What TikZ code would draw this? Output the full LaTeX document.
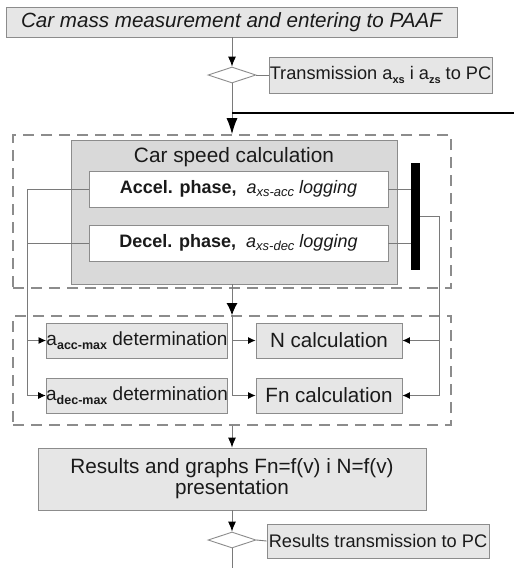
\documentclass[tikz,border=0pt]{standalone}
\usepackage{fontspec}
\setmainfont{Liberation Sans}
\usetikzlibrary{arrows.meta,shapes.geometric}
\definecolor{boxfill}{HTML}{E6E6E6}
\definecolor{speedfill}{HTML}{D9D9D9}
\definecolor{edgegray}{HTML}{8C8C8C}
\definecolor{linegray}{HTML}{7A7A7A}
\definecolor{txt}{HTML}{1A1A1A}
\newcommand{\sbs}[2][11]{\raisebox{-0.35ex}{\fontsize{#1}{#1}\selectfont #2}}
\tikzset{
  box/.style={draw=edgegray, fill=boxfill, line width=0.9pt, inner sep=0pt, text=txt},
  dbox/.style={draw=edgegray, dash pattern=on 11pt off 7pt, line width=1.8pt, inner sep=0pt},
  dia/.style={diamond, draw=edgegray, fill=white, line width=0.9pt, minimum width=48pt, minimum height=16pt, inner sep=0pt},
  conn/.style={draw=linegray, line width=0.9pt},
  arr/.style={conn, -{Latex[length=10pt,width=8pt,color=black]}},
  bigarr/.style={conn, -{Latex[length=16pt,width=11pt,color=black]}},
  midarr/.style={conn, -{Latex[length=12pt,width=11pt,color=black]}},
  smallarr/.style={conn, -{Latex[length=7.5pt,width=7pt,color=black]}},
}
\begin{document}
\begin{tikzpicture}[x=1pt,y=-1pt]
\useasboundingbox (0,0) rectangle (514,568);
% dashed groups
\node[dbox, minimum width=438, minimum height=153] (g1) at (232,211.5) {};
\node[dbox, minimum width=438, minimum height=109] (g2) at (232,370.5) {};
% nodes
\node[box, minimum width=451, minimum height=30, font=\fontsize{20.6}{24}\selectfont\itshape] (top) at (231.5,22) {Car mass measurement and entering to PAAF};
\node[dia] (d1) at (232,75) {};
\node[box, minimum width=223, minimum height=36, font=\fontsize{18.2}{22}\selectfont] (t1) at (380.5,75) {Transmission a\sbs{\bfseries xs} i a\sbs{\bfseries zs} to PC};
\node[box, fill=speedfill, minimum width=326, minimum height=144] (speed) at (234,212) {};
\node[font=\fontsize{20.8}{24}\selectfont, text=txt, inner sep=0pt] (title) at (234,157) {Car speed calculation};
\node[box, fill=white, minimum width=299, minimum height=36, font=\fontsize{18}{20}\selectfont] (acc) at (238.5,189) {\textbf{Accel. phase,}\ \ \textit{a\sbs[13]{xs-acc} logging}};
\node[box, fill=white, minimum width=299, minimum height=36, font=\fontsize{18}{20}\selectfont] (dec) at (238.5,243) {\textbf{Decel. phase,}\ \ \textit{a\sbs[13]{xs-dec} logging}};
\node[fill=black, minimum width=9, minimum height=107, inner sep=0pt] (bar) at (415.5,216.5) {};
\node[box, minimum width=178, minimum height=35, font=\fontsize{19}{22}\selectfont] (amax) at (137,340.5) {a\sbs[12.5]{\bfseries acc-max} determination};
\node[box, minimum width=178, minimum height=35, font=\fontsize{19}{22}\selectfont] (dmax) at (137,395.5) {a\sbs[12.5]{\bfseries dec-max} determination};
\node[box, minimum width=146, minimum height=35, font=\fontsize{20.6}{24}\selectfont] (N) at (329,340.5) {N calculation};
\node[box, minimum width=146, minimum height=35, font=\fontsize{20.6}{24}\selectfont] (Fn) at (329,395.5) {Fn calculation};
\node[box, minimum width=388, minimum height=62, align=center, font=\fontsize{20.7}{21}\selectfont] (res) at (232,479) {Results and graphs Fn=f(v) i N=f(v)\\presentation};
\node[dia] (d2) at (232,540) {};
\node[box, minimum width=222, minimum height=34, font=\fontsize{18.2}{22}\selectfont] (t2) at (378,541) {Results transmission to PC};
% helper coordinates
\coordinate (lbot) at (27,0);
\coordinate (rx) at (439,216);
\coordinate (j1) at (232,113);
\coordinate (e1) at (514,113);
\coordinate (bot) at (232,568);
% connectors
\draw[arr] (top.south -| d1.north) -- (d1.north);
\draw[conn] (d1.east) -- (t1.west);
\draw[bigarr] (d1.south) -- (d1.south |- g1.north);
\draw[black, line width=2.8pt] (j1) -- (e1);
\draw[smallarr] (acc.west) -| (lbot |- dmax.west) -- (dmax.west);
\draw[conn] (dec.west) -- (dec.west -| lbot);
\draw[smallarr] (amax.west -| lbot) -- (amax.west);
\draw[conn] (acc.east) -- (acc.east -| bar.west);
\draw[conn] (dec.east) -- (dec.east -| bar.west);
\draw[smallarr] (bar.east |- rx) -- (rx) |- (Fn.east);
\draw[smallarr] (N.east -| rx) -- (N.east);
\draw[midarr] (speed.south -| d1) -- (d1 |- g2.north);
\draw[smallarr] (d1 |- g2.north) |- (Fn.west);
\draw[smallarr] (N.west -| d1) -- (N.west);
\draw[arr] (g2.south -| d1) -- (res.north -| d1);
\draw[arr] (res.south -| d1) -- (d2.north);
\draw[conn] (d2.east) -- (t2.west);
\draw[conn] (d2.south) -- (bot);
\end{tikzpicture}
\end{document}
